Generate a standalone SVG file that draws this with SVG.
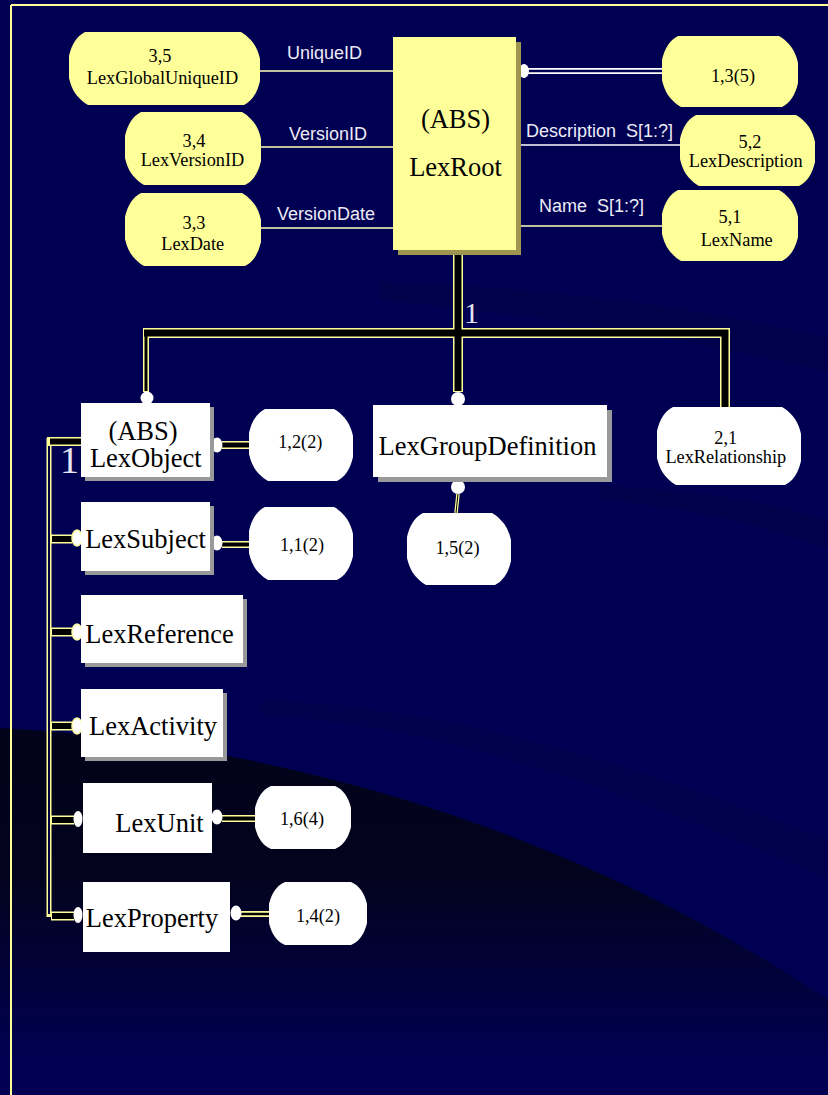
<svg xmlns="http://www.w3.org/2000/svg" xmlns:xlink="http://www.w3.org/1999/xlink" width="828" height="1095" viewBox="0 0 828 1095">
<defs>
<linearGradient id="dark" gradientUnits="userSpaceOnUse" x1="0" y1="728" x2="0" y2="1060">
<stop offset="0" stop-color="#02021a"/>
<stop offset="0.45" stop-color="#03031e"/>
<stop offset="1" stop-color="#000052"/>
</linearGradient>
<style>
.sf{font-family:"Liberation Serif","Times New Roman",serif;fill:#000;text-anchor:middle}
.big{font-size:26.5px}
.sm{font-size:18.3px}
.lbl{font-family:"Liberation Sans",Arial,sans-serif;font-size:18px;fill:#ececf6}
.card{font-family:"Liberation Serif","Times New Roman",serif;fill:#e6e6f2}
.y{fill:#ffff99}
.ysh{fill:#9e9650}
.w{fill:#fff}
.wsh{fill:#999}
.thin{stroke:#ffffb8;stroke-width:1.5;fill:none}
.yo{stroke:#ffff99;fill:none}
.bk{stroke:#000;fill:none}
.dot{fill:#fff}
.doty{fill:#fff;stroke:#ffff99;stroke-width:1.5}
</style>
</defs>

<!-- background -->
<rect x="0" y="0" width="828" height="1095" fill="#000052"/>
<path d="M380,282 C560,288 700,308 828,338 L828,372 C700,340 560,318 380,300 Z" fill="#000040" opacity="0.4"/>
<path d="M600,500 C680,505 760,525 828,548 L828,520 C760,500 680,488 600,486 Z" fill="#000040" opacity="0.4"/>
<path d="M260,715 C450,725 650,800 828,880 L828,840 C650,770 450,705 260,700 Z" fill="#00004a" opacity="0.6"/>
<path d="M0,728 C260,742 560,820 828,1000 L828,1095 L0,1095 Z" fill="url(#dark)"/>

<!-- frame -->
<path d="M11,5 H828 M11,5 V1095" stroke="#ffff99" stroke-width="2" fill="none"/>

<!-- connectors -->
<g id="connectors">
<path class="thin" d="M257,71 H393 M258,147 H393 M258,228 H393 M516,226 H662"/>
<path d="M516,145 H683" stroke="#ffffff" stroke-width="1.5" fill="none"/>
<path d="M528,71 H662" stroke="#ffffff" stroke-width="6" fill="none"/>
<path d="M528,71 H662" stroke="#000052" stroke-width="2.4" fill="none"/>
<ellipse class="dot" cx="524" cy="71" rx="5" ry="7"/>

<!-- supertype tree -->
<path class="yo" stroke-width="10" d="M458,250 V392 M143,333 H725 V412"/>
<path class="yo" stroke-width="6" d="M146,333 V392"/>
<path class="bk" stroke-width="7" d="M458,250 V391 M144,333 H725 V411"/>
<path class="bk" stroke-width="3" d="M146,333 V391"/>
<circle class="dot" cx="147" cy="398" r="6.5"/>
<circle class="dot" cx="458" cy="399" r="7"/>
<circle class="dot" cx="458" cy="487" r="7"/>
<path class="yo" stroke-width="3.5" d="M458,494 L456,513"/>
<path class="bk" stroke-width="1" d="M458,494 L456,513"/>

<!-- subtype tree -->
<path class="yo" stroke-width="5" d="M49,438 V917"/>
<path stroke="#000040" stroke-width="2" fill="none" d="M49,441 V914"/>
<path class="yo" stroke-width="9" d="M47,441.5 H81 M51,539 H72 M51,632 H72 M51,726 H72 M51,820 H74 M51,916 H74"/>
<path class="bk" stroke-width="6" d="M50,441.5 H81 M52,539 H72 M52,632 H72 M52,726 H72 M52,820 H74 M52,916 H74"/>
<ellipse class="doty" cx="77" cy="538" rx="5" ry="8"/>
<ellipse class="doty" cx="77" cy="632" rx="5" ry="8"/>
<ellipse class="doty" cx="77" cy="726" rx="5" ry="8"/>
<ellipse class="dot" cx="78" cy="819" rx="4.5" ry="8"/>
<ellipse class="dot" cx="78" cy="915" rx="4.5" ry="8"/>

<!-- to page refs -->
<path class="yo" stroke-width="8" d="M222,445 H252"/>
<path class="bk" stroke-width="5" d="M222,445 H252"/>
<path class="yo" stroke-width="7" d="M222,544.5 H252 M222,818.5 H256"/>
<path class="bk" stroke-width="4" d="M222,544.5 H252 M222,818.5 H256"/>
<path class="yo" stroke-width="6" d="M240,914 H270"/>
<path class="bk" stroke-width="2.5" d="M240,914 H270"/>
<ellipse class="dot" cx="217" cy="445" rx="5.5" ry="7.5"/>
<ellipse class="dot" cx="217" cy="543" rx="5.5" ry="7.5"/>
<ellipse class="dot" cx="217" cy="817" rx="5.5" ry="7.5"/>
<ellipse class="dot" cx="236" cy="913" rx="5.5" ry="7.5"/>

<!-- labels -->
<text class="lbl" x="287" y="59">UniqueID</text>
<text class="lbl" x="289" y="140">VersionID</text>
<text class="lbl" x="277" y="220">VersionDate</text>
<text class="lbl" x="526" y="137" xml:space="preserve">Description  S[1:?]</text>
<text class="lbl" x="539" y="212" xml:space="preserve">Name  S[1:?]</text>
<text class="card" x="464" y="323" font-size="30">1</text>
<text class="card" x="60" y="473" font-size="38">1</text>
</g>

<!-- nodes -->
<g id="n-LexRoot">
<rect class="ysh" x="398" y="42" width="123" height="213"/>
<rect class="y" x="393" y="37" width="123" height="213"/>
<text class="sf big" x="455.5" y="128">(ABS)</text>
<text class="sf big" x="455.5" y="176">LexRoot</text>
</g>

<g id="n-LexGlobalUniqueID">
<use xlink:href="#p35" class="ysh" transform="translate(3,3)"/>
<path id="p35" class="y" d="M85,32 H241 Q253,38 257,56 V78 Q253,96 241,102 H85 Q73,96 69,78 V56 Q73,38 85,32 Z"/>
<text class="sf sm" x="160" y="62">3,5</text>
<text class="sf sm" x="162.5" y="84">LexGlobalUniqueID</text>
</g>

<g id="n-LexVersionID">
<use xlink:href="#p34" class="ysh" transform="translate(3,3)"/>
<path id="p34" class="y" d="M141,112 H242 Q254,118 258,136 V158 Q254,176 242,182 H141 Q129,176 125,158 V136 Q129,118 141,112 Z"/>
<text class="sf sm" x="194" y="147">3,4</text>
<text class="sf sm" x="192.5" y="166">LexVersionID</text>
</g>

<g id="n-LexDate">
<use xlink:href="#p33" class="ysh" transform="translate(3,3)"/>
<path id="p33" class="y" d="M141,193 H242 Q254,199 258,217 V239 Q254,257 242,263 H141 Q129,257 125,239 V217 Q129,199 141,193 Z"/>
<text class="sf sm" x="194" y="229">3,3</text>
<text class="sf sm" x="192.7" y="250">LexDate</text>
</g>

<g id="n-ref135">
<use xlink:href="#p135" class="ysh" transform="translate(3,3)"/>
<path id="p135" class="y" d="M678,36 H779 Q791,42 795,60 V80 Q791,98 779,104 H678 Q666,98 662,80 V60 Q666,42 678,36 Z"/>
<text class="sf sm" x="733" y="82">1,3(5)</text>
</g>

<g id="n-LexDescription">
<use xlink:href="#p52" class="ysh" transform="translate(3,3)"/>
<path id="p52" class="y" d="M696,115 H796 Q808,121 812,139 V159 Q808,177 796,183 H696 Q684,177 680,159 V139 Q684,121 696,115 Z"/>
<text class="sf sm" x="750" y="148">5,2</text>
<text class="sf sm" x="745.7" y="167">LexDescription</text>
</g>

<g id="n-LexName">
<use xlink:href="#p51" class="ysh" transform="translate(3,3)"/>
<path id="p51" class="y" d="M678,190 H779 Q791,196 795,214 V234 Q791,252 779,258 H678 Q666,252 662,234 V214 Q666,196 678,190 Z"/>
<text class="sf sm" x="730" y="223">5,1</text>
<text class="sf sm" x="736.7" y="246">LexName</text>
</g>

<g id="n-LexObject">
<rect class="wsh" x="85" y="407" width="129" height="74"/>
<rect class="w" x="81" y="403" width="129" height="74"/>
<text class="sf big" x="143" y="440">(ABS)</text>
<text class="sf big" x="145.8" y="467">LexObject</text>
</g>

<g id="n-ref122">
<use xlink:href="#p122" class="wsh" transform="translate(3,3)"/>
<path id="p122" class="w" d="M265,409 H334 Q346,415 350,433 V454 Q346,472 334,478 H265 Q253,472 249,454 V433 Q253,415 265,409 Z"/>
<text class="sf sm" x="300.3" y="448">1,2(2)</text>
</g>

<g id="n-LexGroupDefinition">
<rect class="wsh" x="378" y="410" width="234" height="72"/>
<rect class="w" x="373" y="405" width="234" height="72"/>
<text class="sf big" x="487.5" y="455">LexGroupDefinition</text>
</g>

<g id="n-ref152">
<use xlink:href="#p152" class="wsh" transform="translate(3,3)"/>
<path id="p152" class="w" d="M423,513 H492 Q504,519 508,537 V558 Q504,576 492,582 H423 Q411,576 407,558 V537 Q411,519 423,513 Z"/>
<text class="sf sm" x="457.5" y="554">1,5(2)</text>
</g>

<g id="n-LexRelationship">
<use xlink:href="#p21" class="wsh" transform="translate(3,3)"/>
<path id="p21" class="w" d="M673,407 H782 Q794,413 798,431 V458 Q794,476 782,482 H673 Q661,476 657,458 V431 Q661,413 673,407 Z"/>
<text class="sf sm" x="725.8" y="444">2,1</text>
<text class="sf sm" x="725.8" y="463">LexRelationship</text>
</g>

<g id="n-LexSubject">
<rect class="wsh" x="85" y="506" width="129" height="69"/>
<rect class="w" x="81" y="502" width="129" height="69"/>
<text class="sf big" x="145.5" y="548">LexSubject</text>
</g>

<g id="n-ref112">
<use xlink:href="#p112" class="wsh" transform="translate(3,3)"/>
<path id="p112" class="w" d="M265,507 H334 Q346,513 350,531 V553 Q346,571 334,577 H265 Q253,571 249,553 V531 Q253,513 265,507 Z"/>
<text class="sf sm" x="302" y="550.5">1,1(2)</text>
</g>

<g id="n-LexReference">
<rect class="wsh" x="85" y="599" width="162" height="68"/>
<rect class="w" x="81" y="595" width="162" height="68"/>
<text class="sf big" x="159.5" y="643">LexReference</text>
</g>

<g id="n-LexActivity">
<rect class="wsh" x="85" y="693" width="142" height="68"/>
<rect class="w" x="81" y="689" width="142" height="68"/>
<text class="sf big" x="153" y="735">LexActivity</text>
</g>

<g id="n-LexUnit">
<rect class="w" x="83" y="783" width="129" height="70"/>
<text class="sf big" x="159.5" y="832">LexUnit</text>
</g>

<g id="n-ref164">
<path class="w" d="M271,786 H335 Q347,791 351,808 V827 Q347,844 335,849 H271 Q259,844 255,827 V808 Q259,791 271,786 Z"/>
<text class="sf sm" x="302" y="825">1,6(4)</text>
</g>

<g id="n-LexProperty">
<rect class="w" x="83" y="882" width="147" height="70"/>
<text class="sf big" x="152" y="927">LexProperty</text>
</g>

<g id="n-ref142">
<path class="w" d="M285,882 H351 Q363,887 367,904 V923 Q363,940 351,945 H285 Q273,940 269,923 V904 Q273,887 285,882 Z"/>
<text class="sf sm" x="318" y="922">1,4(2)</text>
</g>
</svg>
